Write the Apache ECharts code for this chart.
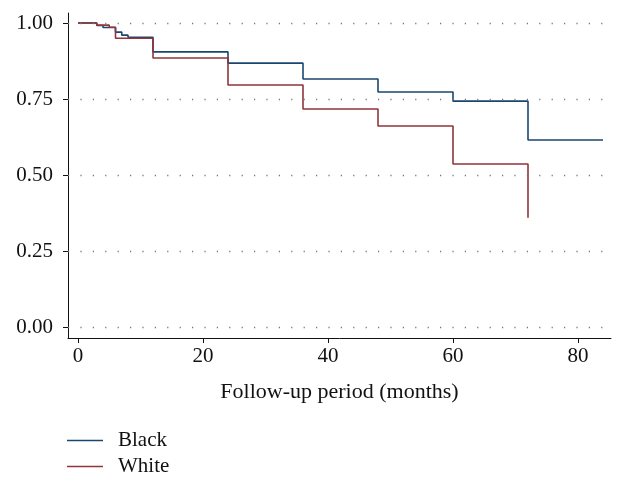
<!DOCTYPE html>
<html>
<head>
<meta charset="utf-8">
<script src="https://cdn.jsdelivr.net/npm/echarts@6/dist/echarts.min.js"></script>
<style>html,body{margin:0;padding:0;background:#fff}#c{width:626px;height:487px}</style>
</head>
<body>
<div id="c"></div>
<script>
var blackTime = [0, 3, 4, 6, 7, 8, 12, 24, 36, 48, 60, 72, 84];
var blackSurv = [1, 0.992, 0.985, 0.970, 0.960, 0.953, 0.905, 0.868, 0.816, 0.773, 0.743, 0.615, 0.615];
var whiteTime = [0, 3, 5, 6, 12, 24, 36, 48, 60, 72];
var whiteSurv = [1, 0.993, 0.986, 0.950, 0.885, 0.796, 0.717, 0.661, 0.536, 0.359];
var xTicks = [0, 20, 40, 60, 80];
var yTicks = [0, 0.25, 0.5, 0.75, 1];
var seriesNames = ['Black', 'White'];
var xTitle = 'Follow-up period (months)';

function pairs(t, s) { return t.map(function (v, i) { return [v, s[i]]; }); }

var font = '"Liberation Serif", "DejaVu Serif", serif';
var chart = echarts.init(document.getElementById('c'), null, {renderer: 'canvas'});
chart.setOption({
  backgroundColor: '#ffffff',
  animation: false,
  grid: {left: 68, top: 13, width: 543, height: 325, containLabel: false},
  legend: {
    orient: 'vertical', left: 67, top: 430, height: 80, padding: 0,
    icon: 'path://M0,0 L36,0 L36,1.6 L0,1.6 Z',
    itemWidth: 36, itemHeight: 1.6, itemGap: 5,
    data: seriesNames,
    textStyle: {fontFamily: font, fontSize: 21, color: '#111', padding: [0, 0, 0, 10]}
  },
  xAxis: {
    type: 'value', min: -1.6, max: 85.28,
    axisLine: {show: true, onZero: false, lineStyle: {color: '#111', width: 1}},
    axisTick: {show: true, length: 5, customValues: xTicks, lineStyle: {color: '#111'}},
    axisLabel: {customValues: xTicks, margin: 8, fontFamily: font, fontSize: 21, color: '#111'},
    splitLine: {show: false},
    name: xTitle, nameLocation: 'middle', nameGap: 43,
    nameTextStyle: {fontFamily: font, fontSize: 22, color: '#111'}
  },
  yAxis: {
    type: 'value', min: -0.0362, max: 1.0329,
    axisLine: {show: true, onZero: false, lineStyle: {color: '#111', width: 1}},
    axisTick: {show: true, length: 5, customValues: yTicks, lineStyle: {color: '#111'}},
    axisLabel: {customValues: yTicks, margin: 15, fontFamily: font, fontSize: 21, color: '#111',
      formatter: function (v) { return v.toFixed(2); }},
    splitLine: {show: false}
  },
  series: [
    {
      name: seriesNames[0], type: 'line', step: 'end', symbol: 'none',
      data: pairs(blackTime, blackSurv),
      lineStyle: {color: '#1a476f', width: 1.6}, itemStyle: {color: '#1a476f'},
      markLine: {
        silent: true, symbol: 'none', label: {show: false},
        lineStyle: {type: [1.2, 11.2], color: '#777', width: 1.3},
        data: yTicks.map(function (v) { return {yAxis: v}; })
      },
      z: 3
    },
    {
      name: seriesNames[1], type: 'line', step: 'end', symbol: 'none',
      data: pairs(whiteTime, whiteSurv),
      lineStyle: {color: '#90353b', width: 1.6}, itemStyle: {color: '#90353b'},
      z: 4
    }
  ]
});
</script>
</body>
</html>
